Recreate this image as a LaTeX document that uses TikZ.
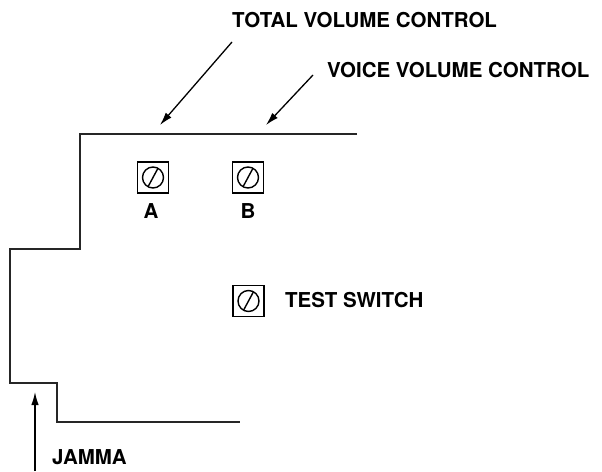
\documentclass[tikz,border=0pt]{standalone}
\usepackage{fontspec}
\setmainfont{TeX Gyre Heros}
\usetikzlibrary{arrows.meta}

\begin{document}
\begin{tikzpicture}[x=1pt,y=-1pt]

\tikzset{caption/.style = {font=\bfseries\fontsize{20.5}{24}\selectfont, inner sep=0pt}}
\tikzset{pot/.style = {draw, line width=1.1pt, minimum size=31pt, inner sep=0pt,
  path picture={\draw[line width=1.4pt] (path picture bounding box.center) circle (10.5pt);
  \draw[line width=1.4pt] (path picture bounding box.center) ++(-5pt,-9.3pt) -- ++(10pt,18.6pt);}}}
\tikzset{edge/.style = {-{Latex[length=13pt,width=7.5pt]}, line width=1.3pt}}
\tikzset{board/.style = {line width=1.1pt, draw=black!85}}

\useasboundingbox (0,0) rectangle (602,471);

%board edge
\draw[board] (357,134) -- (80,134) -- (80,249) -- (10,249) -- (10,383) -- (57,383) -- (57,422) -- (240,422);

%controls
\node[pot] (a) at (153,177.5) {};
\node[pot] (b) at (248,177.5) {};
\node[pot] (test) at (248.5,301) {};
\node[caption] (la) at (151,211) {A};
\node[caption] (lb) at (248,211) {B};
\node[caption, anchor=west] (ltest) at (285,300) {TEST SWITCH};

%labels
\node[caption, anchor=west] (total) at (232,20) {TOTAL VOLUME CONTROL};
\node[caption, anchor=west] (voice) at (327,70) {VOICE VOLUME CONTROL};
\node[caption, anchor=west] (jamma) at (52,457) {JAMMA};

\coordinate (totalfrom) at (232,42);
\coordinate (totaltip) at (160,125);
\coordinate (voicefrom) at (313,75);
\coordinate (voicetip) at (266,125);
\coordinate (jammafrom) at (35,471);
\coordinate (jammatip) at (35,392);

\draw[edge] (totalfrom) -- (totaltip);
\draw[edge] (voicefrom) -- (voicetip);
\draw[edge] (jammafrom) -- (jammatip);

\end{tikzpicture}
\end{document}
